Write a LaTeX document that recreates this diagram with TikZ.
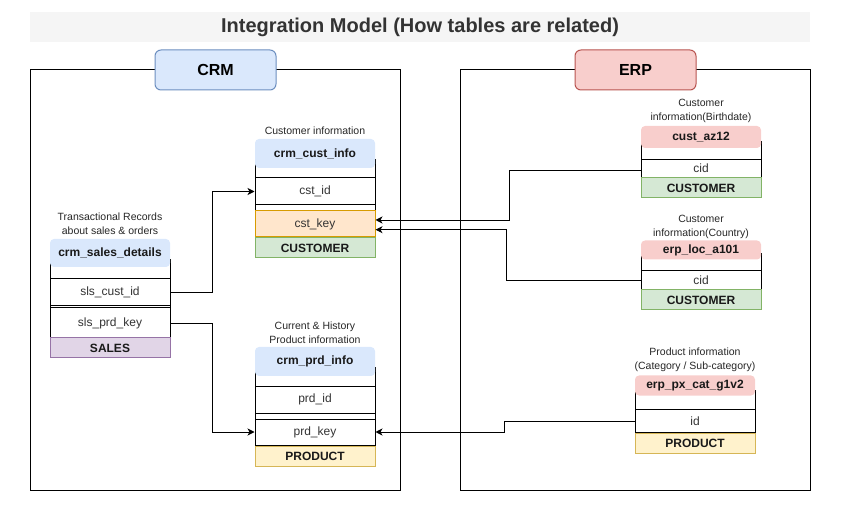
\documentclass[tikz,border=0pt]{standalone}
\usepackage{fontspec}
\setmainfont{Liberation Sans}
\usetikzlibrary{arrows.meta}
\newcommand{\fsz}[2]{\fontsize{#1}{#2}\selectfont}

\definecolor{titlebg}{HTML}{F5F5F5}
\definecolor{titletext}{HTML}{333333}
\definecolor{crmfill}{HTML}{DAE8FC}
\definecolor{crmline}{HTML}{6C8EBF}
\definecolor{erpfill}{HTML}{F8CECC}
\definecolor{erpline}{HTML}{B85450}
\definecolor{keyfill}{HTML}{FFE6CC}
\definecolor{keyline}{HTML}{D79B00}
\definecolor{custfill}{HTML}{D5E8D4}
\definecolor{custline}{HTML}{82B366}
\definecolor{prodfill}{HTML}{FFF2CC}
\definecolor{prodline}{HTML}{D6B656}
\definecolor{salesfill}{HTML}{E1D5E7}
\definecolor{salesline}{HTML}{9673A6}

\tikzset{
  box/.style={draw, line width=1pt},
  grouplbl/.style={draw, line width=1pt, rounded corners=6pt, minimum width=121pt, minimum height=40pt, font=\bfseries\fsz{16}{18}},
  caption/.style={align=center, inner sep=0pt, font=\fsz{10.5}{14}, text=black!85},
  hdr/.style={rounded corners=4pt, minimum width=120pt, inner sep=0pt, font=\bfseries\fsz{12}{14}, text=black!90},
  row/.style={draw, line width=1pt, fill=white, minimum width=120pt, inner sep=0pt, font=\fsz{12}{14}, text=black!80},
  tag/.style={draw, line width=1pt, minimum width=120pt, minimum height=20pt, inner sep=0pt, font=\bfseries\fsz{12}{14}, text=black!90},
  link/.style={-{Stealth[length=7pt,width=7pt,inset=2pt]}, line width=0.9pt}
}

\begin{document}
\begin{tikzpicture}[x=1pt,y=-1pt]
\useasboundingbox (0,0) rectangle (841,521);

% title
\node[fill=titlebg, minimum width=780pt, minimum height=30pt, inner sep=0pt,
  font=\bfseries\fsz{20}{22}, text=titletext] (title) at (420,27) {Integration Model (How tables are related)};

% groups
\draw[box] (30,70) rectangle (400,490);
\draw[box] (460,70) rectangle (810,490);
\node[grouplbl, fill=crmfill, draw=crmline] (crm) at (215.5,70) {CRM};
\node[grouplbl, fill=erpfill, draw=erpline] (erp) at (635.5,70) {ERP};

%% crm_cust_info
\node[caption] (custcap) at (315,131) {Customer information};
\draw[box] (255,160) rectangle (375,237);
\node[hdr, fill=crmfill, minimum height=29pt] (custinfo) at (315,153.5) {crm\_cust\_info};
\node[row, minimum height=27pt] (custid) at (315,191.5) {cst\_id};
\node[row, fill=keyfill, draw=keyline, minimum height=26pt] (cstkey) at (315,224) {cst\_key};
\node[tag, fill=custfill, draw=custline] (custtag) at (315,248) {CUSTOMER};

%% crm_sales_details
\node[caption] (salescap) at (110,224) {Transactional Records\\about sales \& orders};
\draw[box] (50,260) rectangle (170,338);
\node[hdr, fill=crmfill, minimum height=28pt] (salesinfo) at (110,253) {crm\_sales\_details};
\node[row, minimum height=27pt] (slscustid) at (110,292) {sls\_cust\_id};
\node[row, minimum height=30pt] (slsprdkey) at (110,323) {sls\_prd\_key};
\node[tag, fill=salesfill, draw=salesline] (salestag) at (110,348) {SALES};

%% crm_prd_info
\node[caption] (prdcap) at (315,333) {Current \& History\\Product information};
\draw[box] (255,368) rectangle (375,445);
\node[hdr, fill=crmfill, minimum height=29pt] (prdinfo) at (315,361.5) {crm\_prd\_info};
\node[row, minimum height=27pt] (prdid) at (315,399.5) {prd\_id};
\node[row, minimum height=26pt] (prdkey) at (315,432) {prd\_key};
\node[tag, fill=prodfill, draw=prodline] (prdtag) at (315,456) {PRODUCT};

%% cust_az12
\node[caption] (azcap) at (701,111) {Customer\\information(Birthdate)};
\draw[box] (641,142) rectangle (761,178);
\node[hdr, fill=erpfill, minimum height=22pt] (azinfo) at (701,137) {cust\_az12};
\node[row, minimum height=18.5pt] (azcid) at (701,168.5) {cid};
\node[tag, fill=custfill, draw=custline] (aztag) at (701,188) {CUSTOMER};

%% erp_loc_a101
\node[caption] (loccap) at (701,227) {Customer\\information(Country)};
\draw[box] (641,254) rectangle (761,290);
\node[hdr, fill=erpfill, minimum height=19pt] (locinfo) at (701,250) {erp\_loc\_a101};
\node[row, minimum height=19pt] (loccid) at (701,280.5) {cid};
\node[tag, fill=custfill, draw=custline] (loctag) at (701,300) {CUSTOMER};

%% erp_px_cat_g1v2
\node[caption] (catcap) at (695,360) {Product information\\(Category / Sub-category)};
\draw[box] (635,390) rectangle (755,433);
\node[hdr, fill=erpfill, minimum height=20pt] (catinfo) at (695,385.5) {erp\_px\_cat\_g1v2};
\node[row, minimum height=23.5pt] (catid) at (695,421) {id};
\node[tag, fill=prodfill, draw=prodline] (cattag) at (695,443) {PRODUCT};

% relations
\draw[link] (slscustid.east) -- ++(42,0) |- (custid.west);
\draw[link] (slsprdkey.east) -- ++(42,0) |- (prdkey.west);
\draw[link] ([yshift=-2pt]azcid.west) -- ++(-131,0) |- ([yshift=4pt]cstkey.east);
\draw[link] (loccid.west) -- ++(-134,0) |- ([yshift=-5.7pt]cstkey.east);
\draw[link] (catid.west) -- ++(-130,0) |- (prdkey.east);

\end{tikzpicture}
\end{document}
